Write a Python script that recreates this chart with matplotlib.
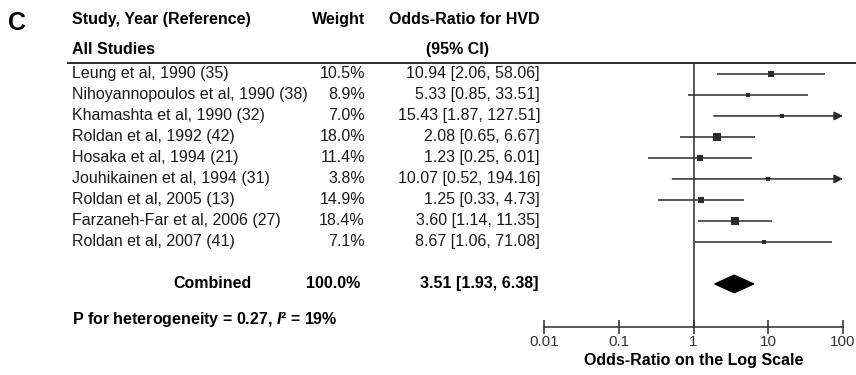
import numpy as np
import matplotlib
matplotlib.use("Agg")
import matplotlib.pyplot as plt
from matplotlib import transforms
from matplotlib.patches import Polygon

plt.rcParams["font.family"] = ["Liberation Sans", "DejaVu Sans"]
plt.rcParams["mathtext.fontset"] = "custom"
plt.rcParams["mathtext.it"] = "Liberation Sans:italic:bold"

studies = [
    "Leung et al, 1990 (35)",
    "Nihoyannopoulos et al, 1990 (38)",
    "Khamashta et al, 1990 (32)",
    "Roldan et al, 1992 (42)",
    "Hosaka et al, 1994 (21)",
    "Jouhikainen et al, 1994 (31)",
    "Roldan et al, 2005 (13)",
    "Farzaneh-Far et al, 2006 (27)",
    "Roldan et al, 2007 (41)",
]
weights = [10.5, 8.9, 7.0, 18.0, 11.4, 3.8, 14.9, 18.4, 7.1]
odds = [10.94, 5.33, 15.43, 2.08, 1.23, 10.07, 1.25, 3.60, 8.67]
ci_low = [2.06, 0.85, 1.87, 0.65, 0.25, 0.52, 0.33, 1.14, 1.06]
ci_high = [58.06, 33.51, 127.51, 6.67, 6.01, 194.16, 4.73, 11.35, 71.08]

combined_or = 3.51
combined_ci = (1.93, 6.38)
combined_weight = 100.0

x_ticks = [0.01, 0.1, 1, 10, 100]
x_ticklabels = ["0.01", "0.1", "1", "10", "100"]

W, H = 856, 375
ink = "#2b2b2b"


def fx(px):
    return px / W


def fy(py):
    return 1 - py / H


fig = plt.figure(figsize=(W / 100, H / 100), dpi=100)

# forest panel: rows are indexed 0..n-1, combined row sits one gap below
ax = fig.add_axes([fx(544), fy(327), fx(843) - fx(544), fy(63) - fy(327)])
ax.set_xscale("log")
ax.set_xlim(0.01, 100)
ax.set_ylim(12.05, -0.52)
for side in ("left", "right", "top"):
    ax.spines[side].set_visible(False)
ax.spines["bottom"].set_color(ink)
ax.spines["bottom"].set_linewidth(1.1)
ax.set_yticks([])
ax.set_xticks(x_ticks)
ax.set_xticklabels(x_ticklabels, fontsize=11, color="#333333")
ax.xaxis.set_minor_locator(matplotlib.ticker.NullLocator())
ax.tick_params(axis="x", direction="inout", length=10, width=1.1, color=ink, pad=1)
ax.set_xlabel("Odds-Ratio on the Log Scale", fontsize=11.5, fontweight="bold",
              labelpad=3)
ax.axvline(1, color=ink, lw=1.1, zorder=1)

xmax = ax.get_xlim()[1]
for i, (o, lo, hi, w) in enumerate(zip(odds, ci_low, ci_high, weights)):
    if hi > xmax:
        ax.annotate("", xy=(xmax, i), xytext=(lo, i),
                    arrowprops=dict(arrowstyle="-|>", color=ink, lw=1.1,
                                    mutation_scale=13, shrinkA=0, shrinkB=0),
                    annotation_clip=False)
    else:
        ax.plot([lo, hi], [i, i], color=ink, lw=1.1, solid_capstyle="butt")
    ax.plot(o, i, marker="s", ms=1.2 * np.sqrt(w), color=ink, mew=0)

crow = len(studies) + 1
d_half = 0.42
ax.add_patch(Polygon([(combined_ci[0], crow), (combined_or, crow - d_half),
                      (combined_ci[1], crow), (combined_or, crow + d_half)],
                     closed=True, color="black"))

# text columns: x in figure fraction, y in row units
tr = transforms.blended_transform_factory(fig.transFigure, ax.transData)
fs = 11.5

fig.text(fx(17), fy(23), "C", fontsize=18, fontweight="bold", ha="center",
         va="center")
ax.text(fx(72), -2.57, "Study, Year (Reference)", transform=tr, fontsize=fs,
        fontweight="bold", va="center")
ax.text(fx(365), -2.57, "Weight", transform=tr, fontsize=fs, fontweight="bold",
        va="center", ha="right")
ax.text(fx(540), -2.57, "Odds-Ratio for HVD", transform=tr, fontsize=fs,
        fontweight="bold", va="center", ha="right")
ax.text(fx(72), -1.14, "All Studies", transform=tr, fontsize=fs,
        fontweight="bold", va="center")
ax.text(fx(458), -1.14, "(95% CI)", transform=tr, fontsize=fs,
        fontweight="bold", va="center", ha="center")

fig.add_artist(plt.Line2D([fx(68), fx(856)], [fy(63), fy(63)], color=ink,
                          lw=1.4))

for i, (name, w, o, lo, hi) in enumerate(zip(studies, weights, odds, ci_low,
                                             ci_high)):
    ax.text(fx(72), i, name, transform=tr, fontsize=fs, va="center",
            color="#1a1a1a")
    ax.text(fx(365), i, f"{w:.1f}%", transform=tr, fontsize=fs, va="center",
            ha="right", color="#1a1a1a")
    ax.text(fx(540), i, f"{o:.2f} [{lo:.2f}, {hi:.2f}]", transform=tr,
            fontsize=fs, va="center", ha="right", color="#1a1a1a")

ax.text(fx(212), crow, "Combined", transform=tr, fontsize=fs,
        fontweight="bold", va="center", ha="center")
ax.text(fx(360), crow, f"{combined_weight:.1f}%", transform=tr, fontsize=fs,
        fontweight="bold", va="center", ha="right")
ax.text(fx(538), crow,
        f"{combined_or:.2f} [{combined_ci[0]:.2f}, {combined_ci[1]:.2f}]",
        transform=tr, fontsize=fs, fontweight="bold", va="center", ha="right")

ax.text(fx(72), 11.71, "P for heterogeneity = 0.27, $\\mathit{I}$\u00b2 = 19%",
        transform=tr, fontsize=fs, fontweight="bold", va="center")

fig.savefig("out.png", dpi=100)
